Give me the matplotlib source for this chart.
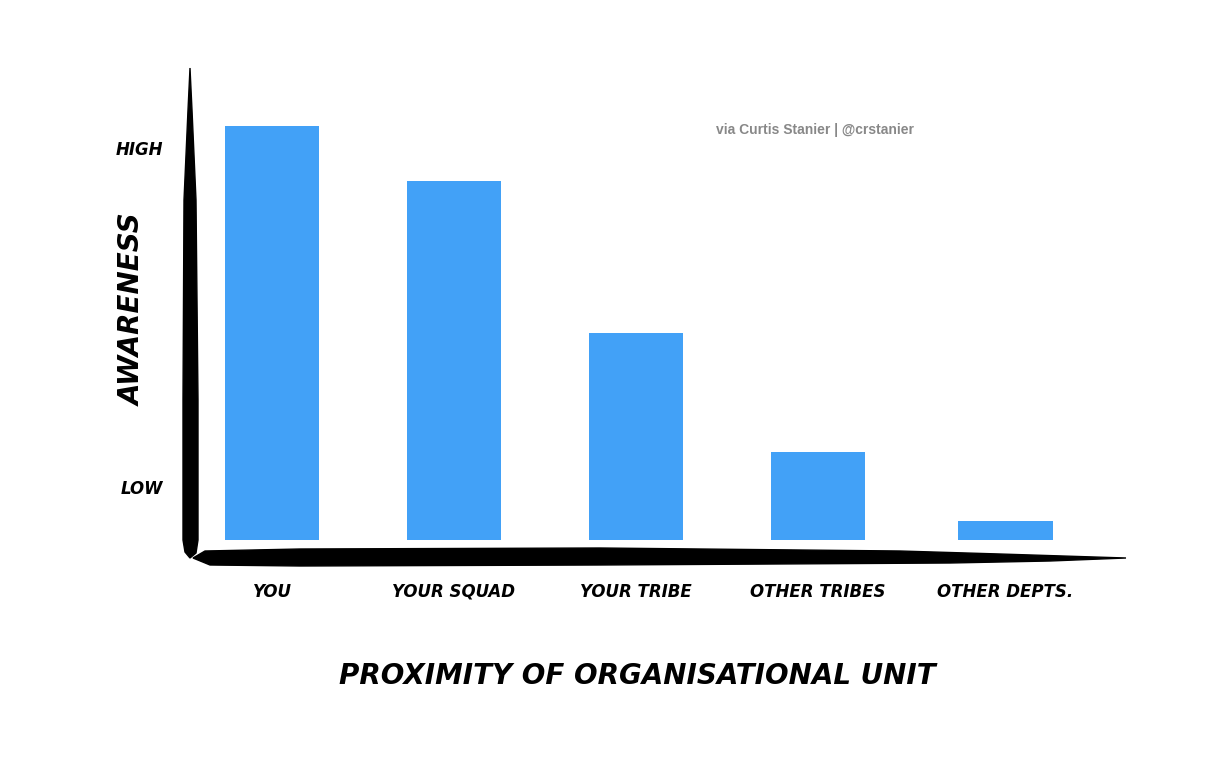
import matplotlib.pyplot as plt
from matplotlib.patches import Polygon
from matplotlib.transforms import Affine2D

# valeurs (unités arbitraires, 1 = 100 px)
units = ['YOU', 'YOUR SQUAD', 'YOUR TRIBE', 'OTHER TRIBES', 'OTHER DEPTS.']
awareness = [4.14, 3.59, 2.07, 0.88, 0.19]
level_ticks = [0.53, 3.92]
level_labels = ['LOW', 'HIGH']

W, H = 1232, 772
fig = plt.figure(figsize=(W / 100, H / 100), dpi=100)
ax = fig.add_axes([190 / W, 1 - 560 / H, 935 / W, 490 / H])

ax.bar([0, 1, 2, 3, 4.03], awareness, width=0.52, color='#42A1F7')
ax.set_xlim(-0.4505, 4.687)
ax.set_ylim(-0.20, 4.70)

for s in ax.spines.values():
    s.set_visible(False)
ax.tick_params(length=0)

font = dict(family='DejaVu Sans', fontweight='bold', style='oblique')
ax.set_xticks([0, 1, 2, 3, 4.03])
ax.set_xticklabels(units, fontsize=12, va='center', **font)
ax.tick_params(axis='x', pad=23)
ax.set_yticks(level_ticks)
ax.set_yticklabels(level_labels, fontsize=12, **font)
ax.tick_params(axis='y', pad=19)

# pixels (origine en haut à gauche) -> figure
px = Affine2D().scale(1 / W, -1 / H).translate(0, 1) + fig.transFigure

# traits "pinceau" des axes
yaxis = [(190, 68), (192, 110), (196, 200), (198, 400), (198, 540), (196, 553),
         (190, 558), (185, 552), (183, 540), (183, 400), (184, 200), (188, 110)]
xaxis = [(193, 558), (205, 551), (300, 549), (600, 548), (900, 551), (1000, 554),
         (1126, 558), (1050, 561), (950, 563), (600, 565), (300, 566), (210, 565)]
for pts in (yaxis, xaxis):
    fig.patches.append(Polygon(pts, closed=True, color='black', transform=px))

fig.text(133 / W, 1 - 310 / H, 'AWARENESS', rotation=90, ha='center', va='center',
         fontsize=20, **font)
fig.text(637 / W, 1 - 676 / H, 'PROXIMITY OF ORGANISATIONAL UNIT', ha='center',
         va='center', fontsize=20, **font)
fig.text(815 / W, 1 - 130 / H, 'via Curtis Stanier | @crstanier', ha='center',
         va='center', fontsize=10, color='#888888', fontweight='bold',
         family='Liberation Sans')

fig.savefig('out.png', dpi=100)
